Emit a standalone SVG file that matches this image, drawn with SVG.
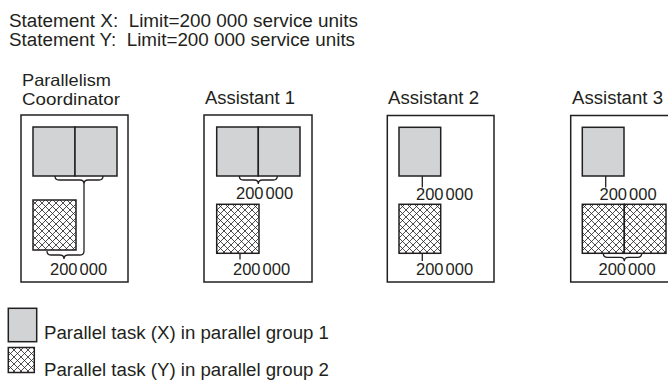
<svg xmlns="http://www.w3.org/2000/svg" width="668" height="382" viewBox="0 0 668 382">
<defs>
<pattern id="hatch" patternUnits="userSpaceOnUse" width="7" height="7">
<rect width="7" height="7" fill="#fff"/>
<path d="M0,0 L7,7 M7,0 L0,7" stroke="#231f20" stroke-width="0.8"/>
</pattern>
<style>
.box{fill:#fff;stroke:#231f20;stroke-width:1.5}
.gray{fill:#d1d3d4;stroke:#231f20;stroke-width:1.5}
.hat{fill:url(#hatch);stroke:#231f20;stroke-width:1.5}
.conn{fill:none;stroke:#231f20;stroke-width:1.3}
text{font-family:"Liberation Sans",Arial,sans-serif;fill:#231f20}
.t{font-size:18px}
.c{font-size:16.5px}
.n{font-size:16.5px;word-spacing:-2.5px}
</style>
</defs>
<rect width="668" height="382" fill="#fff"/>
<g id="header">
<text class="t" x="9" y="27" xml:space="preserve" textLength="349" lengthAdjust="spacingAndGlyphs">Statement X:  Limit=200 000 service units</text>
<text class="t" x="9" y="46" xml:space="preserve" textLength="346" lengthAdjust="spacingAndGlyphs">Statement Y:  Limit=200 000 service units</text>
</g>
<g id="coordinator">
<text class="c" x="22" y="86" textLength="89" lengthAdjust="spacingAndGlyphs">Parallelism</text>
<text class="c" x="22" y="105" textLength="98" lengthAdjust="spacingAndGlyphs">Coordinator</text>
<rect class="box" x="21" y="115" width="107" height="167"/>
<rect class="gray" x="33" y="127" width="42" height="49"/>
<rect class="gray" x="75" y="127" width="42" height="49"/>
<rect class="hat" x="33" y="200" width="43" height="50"/>
<text class="n" x="50" y="275">200 000</text>
</g>
<g id="assistant1">
<text class="t" x="205" y="103.5" textLength="90" lengthAdjust="spacingAndGlyphs">Assistant 1</text>
<rect class="box" x="204" y="115" width="108" height="167"/>
<rect class="gray" x="216.7" y="127" width="41.6" height="49"/>
<rect class="gray" x="258.3" y="127" width="41.7" height="49"/>
<text class="n" x="236" y="198.5">200 000</text>
<rect class="hat" x="216.7" y="204.3" width="42.3" height="49"/>
<text class="n" x="233" y="274.5">200 000</text>
</g>
<g id="assistant2">
<text class="t" x="388" y="103.5" textLength="91" lengthAdjust="spacingAndGlyphs">Assistant 2</text>
<rect class="box" x="387.3" y="115.5" width="106.7" height="166.5"/>
<rect class="gray" x="399" y="127.3" width="41.7" height="48.7"/>
<text class="n" x="416" y="200">200 000</text>
<rect class="hat" x="399" y="204.3" width="41.7" height="49"/>
<text class="n" x="416" y="275">200 000</text>
</g>
<g id="assistant3">
<text class="t" x="572" y="103.5" textLength="91" lengthAdjust="spacingAndGlyphs">Assistant 3</text>
<rect class="box" x="570.7" y="115.5" width="120" height="166.5"/>
<rect class="gray" x="582.3" y="127.3" width="41.7" height="48.7"/>
<text class="n" x="599.5" y="200">200 000</text>
<rect class="hat" x="582.3" y="204.3" width="42" height="49"/>
<rect class="hat" x="624.3" y="204.3" width="41.7" height="49"/>
<text class="n" x="598.5" y="275">200 000</text>
</g>
<g id="connectors">
<path class="conn" d="M55,176 Q55,180 59,180 H80 Q84,180 84,184 Q84,180 88,180 H99 Q103,180 103,176"/>
<path class="conn" d="M84,184 V251 Q84,255 80,255 H68 Q64,255 64,259 Q64,255 60,255 H51 Q47,255 47,251"/>
<path class="conn" d="M239.3,176 Q239.3,180 243.3,180 H254.3 Q258.3,180 258.3,184 Q258.3,180 262.3,180 H273.3 Q277.3,180 277.3,176"/>
<path class="conn" d="M240,253.3 V259.5"/>
<path class="conn" d="M422.3,176 V187.5"/>
<path class="conn" d="M422.3,253.3 V261"/>
<path class="conn" d="M605.7,176 V187.5"/>
<path class="conn" d="M603.3,253.3 Q603.3,257.3 607.3,257.3 H620.3 Q624.3,257.3 624.3,261.3 Q624.3,257.3 628.3,257.3 H637.7 Q641.7,257.3 641.7,253.3"/>
</g>
<g id="legend">
<rect class="gray" x="8.3" y="308.3" width="28.4" height="33.4"/>
<text class="t" x="44" y="339" textLength="285" lengthAdjust="spacingAndGlyphs">Parallel task (X) in parallel group 1</text>
<rect class="hat" x="8.3" y="347.5" width="26" height="25"/>
<text class="t" x="44" y="376" textLength="285" lengthAdjust="spacingAndGlyphs">Parallel task (Y) in parallel group 2</text>
</g>
</svg>
